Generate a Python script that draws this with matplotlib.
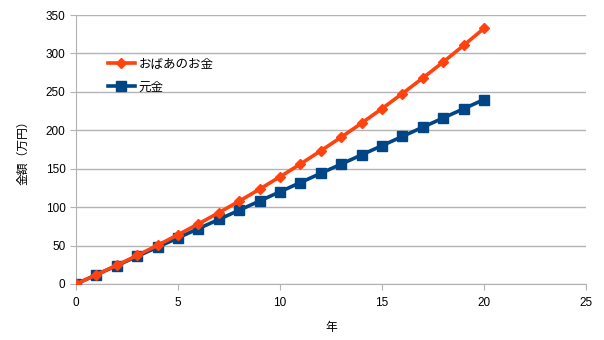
import matplotlib
matplotlib.use("Agg")
import matplotlib.pyplot as plt

plt.rcParams['font.family'] = ['Liberation Sans', 'Noto Sans CJK JP', 'DejaVu Sans']

years = list(range(0, 21))
grandma = [0, 12.0, 24.4, 37.2, 50.4, 64.1, 78.2, 92.8, 107.8, 123.4, 139.5,
           156.1, 173.3, 191.0, 209.3, 228.2, 247.8, 268.0, 288.8, 310.4, 332.6]
principal = [0, 12, 24, 36, 48, 60, 72, 84, 96, 108, 120,
             132, 144, 156, 168, 180, 192, 204, 216, 228, 240]
labels = ['おばあのお金', '元金']

fig = plt.figure(figsize=(6.04, 3.4), dpi=100)
ax = fig.add_axes([76/604, 1-284/340, 510/604, 269/340])

ax.plot(years, grandma, color='#ff420e', lw=2.6, marker='D', ms=5.5,
        label=labels[0], zorder=4)
ax.plot(years, principal, color='#004586', lw=2.6, marker='s', ms=7.5,
        label=labels[1], zorder=3)

ax.set_xlim(0, 25)
ax.set_ylim(0, 350)
ax.set_xticks(range(0, 26, 5))
ax.set_yticks(range(0, 351, 50))
ax.grid(axis='y', color='#b3b3b3', lw=1)
ax.set_axisbelow(True)
for s in ['top', 'right']:
    ax.spines[s].set_visible(False)
for s in ['left', 'bottom']:
    ax.spines[s].set_color('#b3b3b3')
ax.tick_params(colors='#b3b3b3', labelcolor='black', labelsize=8.5, length=4)
ax.tick_params(axis='x', pad=5)
for lab in ax.get_xticklabels() + ax.get_yticklabels():
    lab.set_clip_on(False)

ax.set_xlabel('年', fontsize=8.5, labelpad=10)
ax.set_ylabel('金額（万円）', fontsize=8.5, labelpad=12)

ax.legend(loc='upper left', bbox_to_anchor=(0.04, 0.88), frameon=False,
          fontsize=9, handlelength=2.2, handletextpad=0.3, labelspacing=0.9)

fig.savefig('out.png', dpi=100)
